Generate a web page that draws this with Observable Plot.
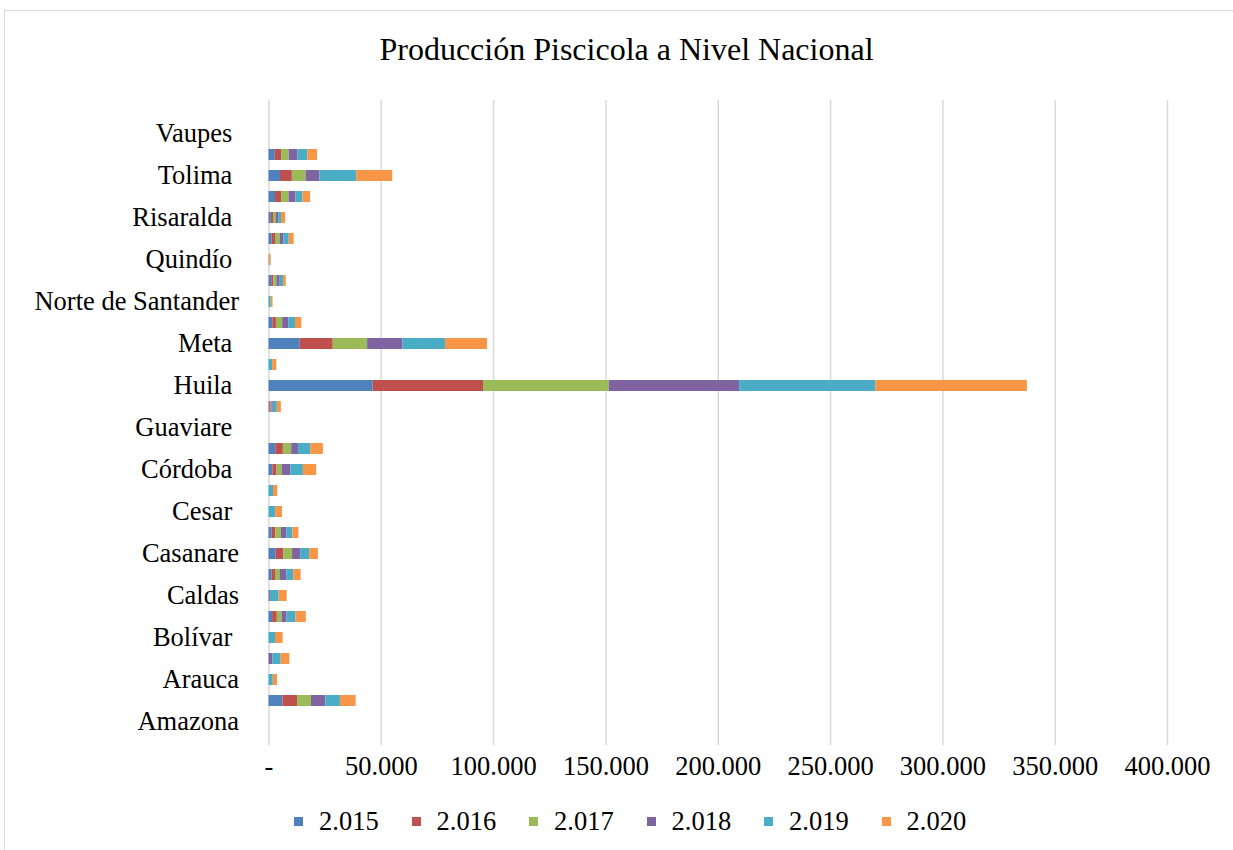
<!DOCTYPE html>
<html>
<head>
<meta charset="utf-8">
<script src="https://cdn.jsdelivr.net/npm/d3@7"></script>
<script src="https://cdn.jsdelivr.net/npm/@observablehq/plot@0.6"></script>
<style>
  body { margin: 0; background: #fff; }
  #wrap { position: relative; width: 1233px; height: 850px; overflow: hidden; font-family: "Liberation Serif", "Times New Roman", serif; color: #000; }
  #frame { position: absolute; left: 4px; top: 10px; width: 1240px; height: 900px; border: 1px solid #d9d9d9; box-sizing: border-box; }
  #title { position: absolute; left: 0; width: 1253px; top: 33px; text-align: center; font-size: 32px; line-height: 32px; white-space: nowrap; }
  #chart { position: absolute; left: 0; top: 0; }
  #legend { position: absolute; left: 0; top: 0; width: 1233px; height: 850px; pointer-events: none; }
  .sw { position: absolute; width: 9px; height: 9px; }
  .lt { position: absolute; font-size: 26.5px; line-height: 26.5px; white-space: nowrap; }
  svg text { white-space: pre; }
</style>
</head>
<body>
<div id="wrap">
  <div id="frame"></div>
  <div id="title">Producción Piscicola a Nivel Nacional</div>
  <div id="chart"></div>
  <div id="legend"></div>
</div>
<script>
// Categories, top to bottom as drawn
const departamentos = [
  "Vaupes ", "Valle del Cauca", "Tolima ", "Santander", "Risaralda ", "San Andrés",
  "Quindío ", "Putumayo", "Norte de Santander", "Nariño", "Meta ", "Magdalena",
  "Huila ", "Guajira", "Guaviare ", "Cundinamarca", "Córdoba ", "Chocó",
  "Cesar ", "Cauca", "Casanare", "Caquetá", "Caldas", "Boyacá",
  "Bolívar ", "Atlántico", "Arauca", "Antioquia", "Amazona"
];
const years = ["2.015", "2.016", "2.017", "2.018", "2.019", "2.020"];
const colors = ["#4F81BD", "#C0504D", "#9BBB59", "#8064A2", "#4BACC6", "#F79646"];

const v2015 = [0, 2800, 5100, 2900, 1000, 1400, 0, 1200, 0, 1700, 13900, 0, 46400, 400, 0, 3000, 1700, 0, 0, 1400, 3200, 1400, 0, 1600, 0, 0, 0, 6200, 0];
const v2016 = [0, 2800, 5300, 2700, 1000, 1500, 0, 1000, 0, 1600, 14700, 0, 49100, 600, 0, 3400, 1900, 0, 0, 1600, 3400, 1500, 0, 2100, 0, 0, 0, 6500, 0];
const v2017 = [0, 3400, 6100, 3300, 1300, 2100, 0, 1300, 0, 2800, 15300, 0, 56000, 300, 0, 3700, 2200, 0, 0, 2500, 3900, 2200, 0, 2100, 0, 0, 0, 6200, 0];
const v2018 = [0, 3800, 6100, 3100, 1000, 1600, 0, 1500, 0, 2700, 15700, 0, 58000, 600, 0, 3000, 3900, 0, 0, 2400, 3600, 2800, 600, 2200, 0, 1700, 0, 6400, 0];
const v2019 = [0, 4500, 16500, 3100, 1300, 2400, 300, 1500, 1000, 3000, 19000, 1600, 60600, 1800, 0, 5500, 5600, 2000, 3000, 2700, 4000, 3100, 3900, 4000, 2900, 3700, 1900, 6500, 0];
const v2020 = [0, 4300, 16000, 3400, 1800, 2200, 700, 1200, 800, 2800, 18700, 1900, 67500, 1800, 0, 5600, 5900, 1900, 3000, 2700, 3900, 3300, 3600, 4600, 3400, 3900, 1900, 7000, 0];

const xTicks = [0, 50000, 100000, 150000, 200000, 250000, 300000, 350000, 400000];
const yLabels = departamentos.filter((d, i) => i % 2 === 0);

const series = [v2015, v2016, v2017, v2018, v2019, v2020];
const rows = [];
departamentos.forEach((dep, i) => {
  series.forEach((s, j) => rows.push({dep, year: years[j], value: s[i]}));
});

const fmt = d3.formatLocale({decimal: ",", thousands: ".", grouping: [3], currency: ["", ""]}).format(",d");

const chart = Plot.plot({
  width: 1233,
  height: 850,
  marginLeft: 268.5,
  marginRight: 66,
  marginTop: 100,
  marginBottom: 105,
  x: {domain: [0, 400000], label: null},
  y: {domain: departamentos, range: [115.85, 739.5], padding: 0.5, label: null},
  color: {domain: years, range: colors},
  style: {fontFamily: '"Liberation Serif", "Times New Roman", serif', fontSize: "26.5px", color: "#000", background: "transparent"},
  marks: [
    Plot.ruleX(xTicks, {stroke: "#d9d9d9", strokeWidth: 1.5}),
    Plot.barX(rows, Plot.stackX({x: "value", y: "dep", fill: "year"})),
    Plot.axisX(xTicks, {tickSize: 0, tickPadding: 11, label: null, tickFormat: d => d === 0 ? "-" : fmt(d), fontSize: 26.5}),
    Plot.axisY(yLabels, {tickSize: 0, tickPadding: 30, label: null, fontSize: 26.5})
  ]
});
document.getElementById("chart").appendChild(chart);

// Legend
const legend = document.getElementById("legend");
years.forEach((y, i) => {
  const sw = document.createElement("div");
  sw.className = "sw";
  sw.style.left = (294 + 117.5 * i) + "px";
  sw.style.top = "816.5px";
  sw.style.background = colors[i];
  legend.appendChild(sw);
  const t = document.createElement("div");
  t.className = "lt";
  t.style.left = (319 + 117.5 * i) + "px";
  t.style.top = "808px";
  t.textContent = y;
  legend.appendChild(t);
});
</script>
</body>
</html>
